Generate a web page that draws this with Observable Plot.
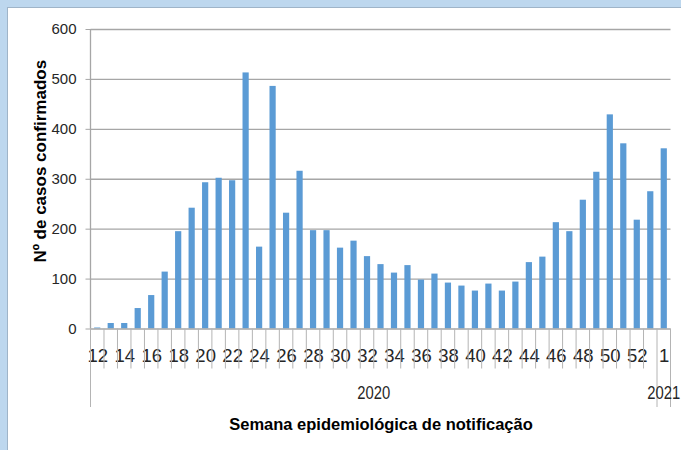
<!DOCTYPE html>
<html>
<head>
<meta charset="utf-8">
<script src="https://cdn.jsdelivr.net/npm/d3@7"></script>
<script src="https://cdn.jsdelivr.net/npm/@observablehq/plot@0.6"></script>
<style>
  html, body { margin: 0; padding: 0; background: #fff; }
  #wrap { position: relative; width: 681px; height: 450px; background: #bdd7ee; overflow: hidden; }
  #panel { position: absolute; left: 7px; top: 7px; right: 0; bottom: 0; background: #fff;
           border-left: 1px solid #9fb4c8; border-top: 1px solid #9fb4c8; }
  #chart { position: absolute; left: 0; top: 0; }
</style>
</head>
<body>
<div id="wrap"><div id="panel"></div><div id="chart"></div></div>
<script>
// ---- data ----
const weeks = ["12","13","14","15","16","17","18","19","20","21","22","23","24","25","26","27","28","29","30","31","32","33","34","35","36","37","38","39","40","41","42","43","44","45","46","47","48","49","50","51","52","53","1"];
const years = ["2020","2020","2020","2020","2020","2020","2020","2020","2020","2020","2020","2020","2020","2020","2020","2020","2020","2020","2020","2020","2020","2020","2020","2020","2020","2020","2020","2020","2020","2020","2020","2020","2020","2020","2020","2020","2020","2020","2020","2020","2020","2020","2021"];
const cases = [2,11,11,41,67,114,195,242,293,302,297,513,164,486,232,316,197,197,162,176,145,129,112,127,98,110,92,86,76,90,76,94,133,144,213,195,258,314,429,371,218,275,361];
const xTickLabels = ["12","14","16","18","20","22","24","26","28","30","32","34","36","38","40","42","44","46","48","50","52","1"];
const yTicks = [0,100,200,300,400,500,600];
const yearLabels = ["2020","2021"];
const xTitle = "Semana epidemiológica de notificação";
const yTitle = "Nº de casos confirmados";

const data = weeks.map((w, i) => ({week: w, cases: cases[i], year: years[i]}));

const SANS = "'Liberation Sans',Arial,sans-serif";
const TXT = "#262626";
const GRID = "#a6a6a6";

const chart = Plot.plot({
  width: 681,
  height: 450,
  marginTop: 29,
  marginBottom: 121.5,
  marginLeft: 90.5,
  marginRight: 10.5,
  style: {background: "transparent", overflow: "visible", fontFamily: SANS},
  x: {type: "band", domain: weeks, paddingInner: 0.54, paddingOuter: 0.27, align: 0.5, round: false, axis: null},
  y: {domain: [0, 600], axis: null},
  marks: [
    Plot.ruleY(yTicks.slice(1), {stroke: GRID, strokeWidth: 1.3}),
    Plot.barY(data, {x: "week", y: "cases", fill: "#5b9bd5"}),
    Plot.axisY({ticks: yTicks, tickSize: 5, tickPadding: 9.5, fontSize: 15, fontFamily: SANS,
                stroke: GRID, fill: TXT, label: null}),
    Plot.ruleY([0], {stroke: GRID, strokeWidth: 1.3}),
    Plot.text(xTickLabels, {x: d => d, frameAnchor: "bottom", dy: 27, lineAnchor: "middle",
                            fontSize: 18.5, fontFamily: SANS, fill: TXT, ariaLabel: "xticks"}),
    Plot.text([xTitle], {frameAnchor: "bottom", dy: 95.5, lineAnchor: "middle", textAnchor: "middle",
                         fontSize: 16.5, fontWeight: "bold", fontFamily: SANS, fill: "#000", ariaLabel: "xtitle"}),
    Plot.text([yTitle], {frameAnchor: "left", dx: -50.5, dy: -18, rotate: -90, lineAnchor: "middle", textAnchor: "middle",
                         fontSize: 17, fontWeight: "bold", fontFamily: SANS, fill: "#000", ariaLabel: "ytitle"})
  ]
});
document.getElementById("chart").appendChild(chart);

// ---- category-axis separators and year group labels, from Plot's x scale ----
const sx = chart.scale("x");
const sy = chart.scale("y");
const half = (sx.step - sx.bandwidth) / 2;
const y0 = sy.apply(0);
const svg = d3.select(chart);
const g = svg.append("g").attr("stroke", "#b4b4b4").attr("stroke-width", 1);
const leftEdge = w => sx.apply(w) - half;
const rightEdge = w => sx.apply(w) + sx.bandwidth + half;
const shortLen = 40, longLen = 78.5;
weeks.forEach((w, i) => {
  const first = i === 0 || years[i - 1] !== years[i];
  g.append("line").attr("x1", leftEdge(w)).attr("x2", leftEdge(w))
    .attr("y1", y0).attr("y2", y0 + (first ? longLen : shortLen));
});
const last = weeks[weeks.length - 1];
g.append("line").attr("x1", rightEdge(last)).attr("x2", rightEdge(last))
  .attr("y1", y0).attr("y2", y0 + longLen);
// y axis line
g.append("line").attr("x1", sx.range[0]).attr("x2", sx.range[0])
  .attr("y1", sy.apply(600)).attr("y2", y0).attr("stroke", GRID).attr("stroke-width", 1.3);

const yg = svg.append("g").attr("aria-label", "years");
yearLabels.forEach(yr => {
  const ws = weeks.filter((w, i) => years[i] === yr);
  const cx = (leftEdge(ws[0]) + rightEdge(ws[ws.length - 1])) / 2;
  yg.append("text").attr("transform", `translate(${cx},${y0 + 64}) scale(1,1.3)`).attr("dy", "0.35em")
    .attr("text-anchor", "middle").attr("font-family", SANS).attr("font-size", 14.8)
    .attr("fill", TXT).text(yr);
});

// condense texts horizontally (narrow typeface look)
function squeeze(label, factor, fixed) {
  svg.selectAll(`g[aria-label="${label}"] text`).each(function () {
    const L = this.getComputedTextLength();
    this.setAttribute("textLength", fixed != null ? fixed : L * factor);
    this.setAttribute("lengthAdjust", "spacingAndGlyphs");
  });
}
squeeze("xticks", 0.69);
squeeze("xtitle", null, 256);
squeeze("ytitle", null, 195);
</script>
</body>
</html>
